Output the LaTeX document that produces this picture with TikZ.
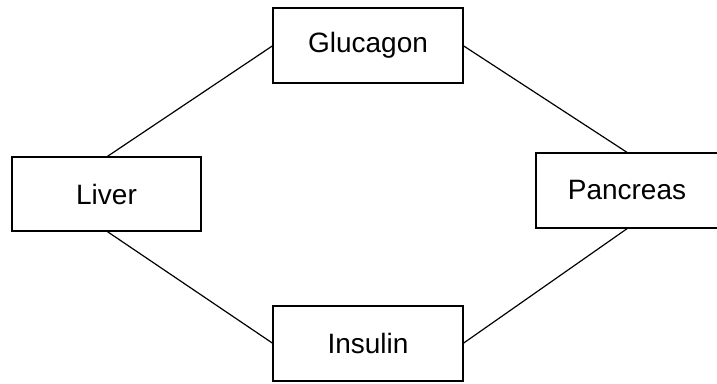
\documentclass[tikz,border=0pt]{standalone}
\usepackage{fontspec}
\setmainfont{Liberation Sans}
\begin{document}
\begin{tikzpicture}[x=1pt,y=-1pt,
  box/.style={draw=black, line width=2.6pt, fill=white, inner sep=0pt, outer sep=0pt,
    font=\fontsize{28}{34}\selectfont},
  link/.style={draw=black, line width=1.2pt}]
\useasboundingbox (0,0) rectangle (717,383);
\clip (0,0) rectangle (717,383);
\node[box, minimum width=190pt, minimum height=75pt] (glucagon) at (368,45.5) {Glucagon};
\node[box, minimum width=190pt, minimum height=75pt] (insulin) at (368,343.5) {Insulin};
\node[box, minimum width=189pt, minimum height=74pt] (liver) at (106.5,194) {Liver};
\node[box, minimum width=184pt, minimum height=75pt] (pancreas) at (628,190.5) {\hspace*{-2pt}Pancreas};
\draw[link] (liver.north) -- (glucagon.west);
\draw[link] (glucagon.east) -- (pancreas.north);
\draw[link] (liver.south) -- (insulin.west);
\draw[link] (insulin.east) -- (pancreas.south);
\end{tikzpicture}
\end{document}
